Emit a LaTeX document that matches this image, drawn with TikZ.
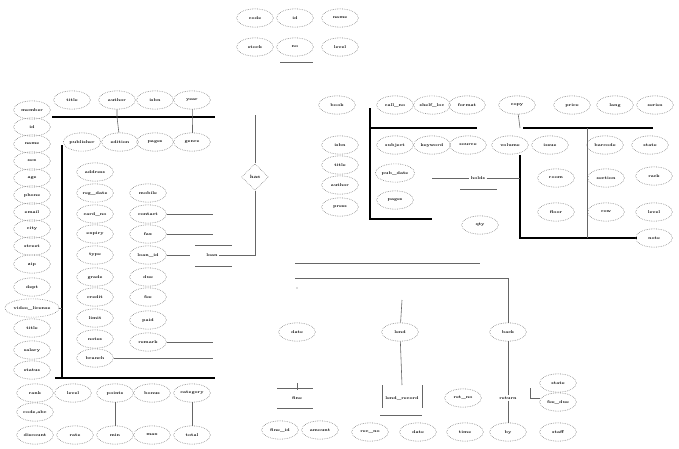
\documentclass[tikz,border=0pt]{standalone}
\usetikzlibrary{shapes.geometric}
\tikzset{
  attr/.style={ellipse, draw=black!55, densely dotted, line width=0.5pt, minimum width=1.1cm, minimum height=0.55cm, inner sep=0.5pt, font=\fontsize{3.5}{4}\selectfont\bfseries},
  rel/.style={diamond, draw=black!55, densely dotted, line width=0.5pt, minimum width=0.8cm, minimum height=0.8cm, inner sep=0pt, font=\fontsize{4}{5}\selectfont\bfseries},
  lbl/.style={inner sep=1pt, font=\fontsize{3.5}{4}\selectfont\bfseries},
  border/.style={line width=1.1pt},
  link/.style={black!60, line width=0.5pt}
}
\begin{document}
\begin{tikzpicture}[x=0.03cm,y=-0.03cm]
\useasboundingbox (0,0) rectangle (679,448);

% stock group at the top
\foreach \x/\y/\t [count=\i] in {255/18/code,295/18/id,340/18/name,255/47/stock,295/47/no,340/47/level}
   \node[attr] (s\i) at (\x,\y) {\t};
\draw[link] (280,62)--(313,62);

% member block
\foreach \x/\t [count=\i] in {72/title,117/author,155/isbn,192/year}
   \node[attr] (a\i) at (\x,100) {\t};
\foreach \x/\t [count=\i] in {82/publisher,120/edition,155/pages,192/genre}
   \node[attr] (b\i) at (\x,142) {\t};
\foreach \y/\t [count=\i] in {110/member,127/id,144/name,161/sex,178/age,195/phone,212/email,229/city,246/street,264/zip,287/dept,308/video\_license,328/title,350/salary,370/status}
   \node[attr] (l\i) at (32,\y) {\t};
\foreach \y/\t [count=\i] in {172/address,193/reg\_date,214/card\_no,234/expiry,255/type,277/grade,297/credit,318/limit,339/notes,358/branch}
   \node[attr] (m\i) at (95,\y) {\t};
\foreach \y/\t [count=\i] in {193/mobile,214/contact,234/fax,255/loan\_id,277/due,297/fee,320/paid,342/remark}
   \node[attr] (r\i) at (148,\y) {\t};

\draw[border] (52,117)--(215,117);
\draw[border] (62,145)--(62,378);
\draw[border] (55,378)--(215,378);
\draw[link] (a2)--(117,117)--(b2);
\draw[link] (a4)--(192,117)--(b4);
\draw[link] (l12)--(62,308);
\draw[link] (r2.east)--(213,214);
\draw[link] (r3.east)--(213,234);
\draw[link] (r8.east)--(213,342);
\draw[link] (m10.east)--(213,358);

% loan relation
\node[lbl] (loan) at (212,255) {loan};
\draw[link] (195,245)--(232,245);
\draw[link] (195,266)--(232,266);
\draw[link] (r4.east)--(190,255);
\node[rel] (has) at (255,177) {has};
\draw[link] (loan.east)-|(has);
\draw[link] (has)--(255,115);

% bottom of member block
\foreach \x/\t [count=\i] in {35/rank,73/level,115/points,152/bonus,192/category}
   \node[attr] (c\i) at (\x,393) {\t};
\node[attr] (c6) at (35,412) {code,abc};
\foreach \x/\t [count=\i] in {35/discount,75/rate,115/min,152/max,192/total}
   \node[attr] (f\i) at (\x,435) {\t};
\draw[link] (c3)--(f3);
\draw[link] (c5)--(f5);

% book block
\foreach \x/\t [count=\i] in {337/book,395/call\_no,432/shelf\_loc,467/format,517/copy,572/price,615/lang,655/series}
   \node[attr] (p\i) at (\x,105) {\t};
\foreach \x/\t [count=\i] in {340/isbn,395/subject,432/keyword,468/source,510/volume,550/issue,605/barcode,650/state}
   \node[attr] (q\i) at (\x,145) {\t};
\foreach \y/\t [count=\i] in {165/title,185/author,207/press}
   \node[attr] (u\i) at (340,\y) {\t};
\node[attr] (v1) at (395,173) {pub\_date};
\node[attr] (v2) at (395,200) {pages};
\draw[border] (370,108)--(370,219)--(432,219);
\draw[border] (370,128)--(477,128);
\draw[border] (523,128)--(653,128);
\draw[link] (p5)--(520,128);
\draw[border] (520,155)--(520,238)--(637,238);
\draw[link] (587,128)--(587,238);

\node[lbl] (hold) at (478,178) {holds};
\draw[link] (432,178)--(hold.west);
\draw[link] (hold.east)--(520,178);
\draw[link] (460,189)--(497,189);
\node[attr] (w1) at (480,225) {qty};
\foreach \x/\y/\t [count=\i] in {556/178/room,606/178/section,654/176/rack,556/212/floor,606/212/row,654/212/level,654/238/note}
   \node[attr] (g\i) at (\x,\y) {\t};

% lower relations
\node[attr] (h1) at (297,332) {date};
\node[attr] (h2) at (400,332) {lend};
\node[attr] (h3) at (508,332) {back};
\draw[link] (295,263)--(480,263);
\draw[link] (295,278)--(508,278)--(h3);
\fill[black!60] (297,288) circle (0.7);
\draw[link] (402,300)--(h2);
\draw[link] (h2)--(402,385);

\node[lbl] (fine) at (297,398) {fine};
\draw[link] (277,388)--(313,388);
\draw[link] (277,408)--(313,408);
\draw[link] (297,383)--(297,390);
\node[attr] (n1) at (280,430) {fine\_id};
\node[attr] (n2) at (320,430) {amount};

\node[lbl] (lend) at (402,398) {lend\_record};
\draw[link] (382,385)--(382,408);
\draw[link] (422,385)--(422,408);
\draw[link] (380,415)--(422,415);
\node[attr] (n3) at (370,432) {rec\_no};
\node[attr] (n4) at (418,432) {date};

\node[lbl] (ret) at (508,398) {return};
\draw[link] (h3)--(ret);
\node[attr] (o1) at (463,398) {ret\_no};
\node[attr] (o2) at (558,383) {state};
\node[attr] (o3) at (558,402) {fee\_due};
\node[attr] (o4) at (465,432) {time};
\node[attr] (o5) at (508,432) {by};
\node[attr] (o6) at (558,432) {staff};
\draw[link] (ret)--(o5);
\draw[link] (530,388)--(530,398)--(540,398);
\end{tikzpicture}
\end{document}
